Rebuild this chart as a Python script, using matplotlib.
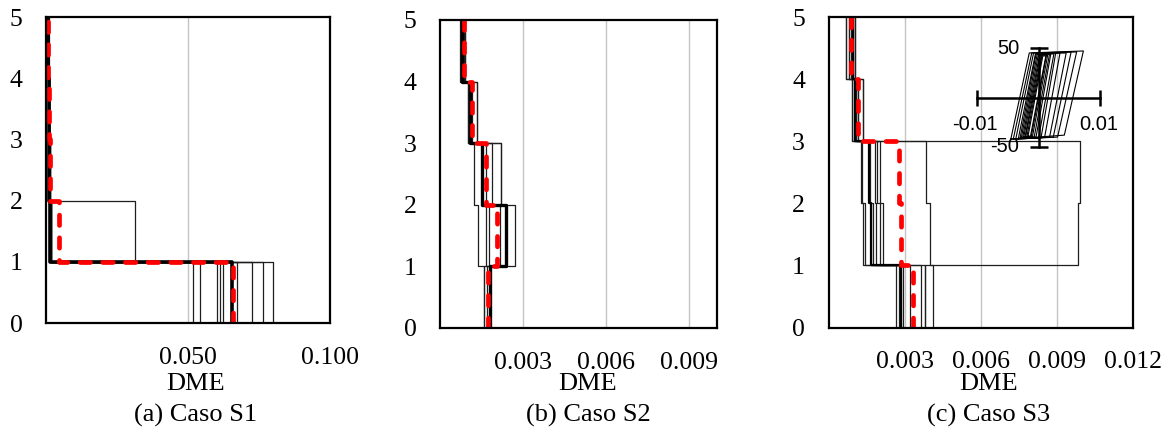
import matplotlib
matplotlib.use("Agg")
import matplotlib.pyplot as plt

# ---------------- data ----------------
stories = [0, 1, 2, 3, 4, 5]

# Panel (a) Caso S1: per-record DME per story (story 1..5)
s1_records = [
    [0.0519, 0.0015, 0.0011, 0.0009, 0.0006],
    [0.0542, 0.0016, 0.0012, 0.0010, 0.0007],
    [0.0601, 0.0017, 0.0013, 0.0010, 0.0008],
    [0.0613, 0.0018, 0.0014, 0.0011, 0.0008],
    [0.0622, 0.0312, 0.0012, 0.0010, 0.0007],
    [0.0671, 0.0016, 0.0012, 0.0009, 0.0007],
    [0.0726, 0.0017, 0.0013, 0.0011, 0.0008],
    [0.0765, 0.0015, 0.0011, 0.0009, 0.0006],
    [0.0798, 0.0018, 0.0014, 0.0011, 0.0009],
]
s1_thick = [0.0655, 0.0015, 0.0012, 0.0010, 0.0008]
s1_mean = [0.0657, 0.0046, 0.0013, 0.0010, 0.0008]
s1_xticks = [0.05, 0.10]
s1_xticklabels = ["0.050", "0.100"]
s1_xlim = 0.10

# Panel (b) Caso S2
s2_records = [
    [0.00160, 0.00138, 0.00124, 0.00100, 0.00074],
    [0.00160, 0.00270, 0.00220, 0.00134, 0.00092],
    [0.00180, 0.00166, 0.00186, 0.00114, 0.00086],
    [0.00180, 0.00178, 0.00166, 0.00100, 0.00078],
    [0.00170, 0.00216, 0.00220, 0.00134, 0.00092],
]
s2_thick = [0.00180, 0.00238, 0.00150, 0.00108, 0.00080]
s2_mean = [0.00172, 0.00204, 0.00166, 0.00114, 0.00086]
s2_xticks = [0.003, 0.006, 0.009]
s2_xticklabels = ["0.003", "0.006", "0.009"]
s2_xlim = 0.010

# Panel (c) Caso S3
s3_records = [
    [0.00267, 0.00136, 0.00126, 0.00094, 0.00068],
    [0.00276, 0.00142, 0.00133, 0.00102, 0.00080],
    [0.00285, 0.00169, 0.00158, 0.00107, 0.00087],
    [0.00293, 0.00175, 0.00162, 0.00116, 0.00096],
    [0.00320, 0.00186, 0.00182, 0.00107, 0.00080],
    [0.00366, 0.00202, 0.00189, 0.00136, 0.00106],
    [0.00379, 0.00215, 0.00202, 0.00116, 0.00096],
    [0.00411, 0.00401, 0.00385, 0.00136, 0.00106],
    [0.00379, 0.00982, 0.00989, 0.00094, 0.00068],
]
s3_thick = [0.00285, 0.00169, 0.00158, 0.00106, 0.00096]
s3_mean = [0.00333, 0.00284, 0.00278, 0.00116, 0.00087]
s3_xticks = [0.003, 0.006, 0.009, 0.012]
s3_xticklabels = ["0.003", "0.006", "0.009", "0.012"]
s3_xlim = 0.012

# Inset hysteresis loops (corners: BL, TL, TR, BR, BL)
loop_x = [
    [-0.0045, -0.0015, 0.0073, 0.0042, -0.0045],
    [-0.0041, -0.0011, 0.0062, 0.0031, -0.0041],
    [-0.0037, -0.0008, 0.0053, 0.0024, -0.0037],
    [-0.0033, -0.0005, 0.0045, 0.0018, -0.0033],
    [-0.0030, -0.0004, 0.0028, 0.0004, -0.0030],
    [-0.0028, -0.0002, 0.0035, 0.0010, -0.0028],
    [-0.0026, 0.0000, 0.0025, 0.0000, -0.0026],
    [-0.0024, 0.0002, 0.0020, -0.0004, -0.0024],
    [-0.0022, 0.0003, 0.0018, -0.0007, -0.0022],
    [-0.0021, 0.0005, 0.0015, -0.0010, -0.0021],
    [-0.0019, 0.0006, 0.0013, -0.0012, -0.0019],
    [-0.0017, 0.0007, 0.0012, -0.0013, -0.0017],
]
loop_y = [
    [-42, 45, 47, -38, -42],
    [-42, 45, 46, -40, -42],
    [-42, 45, 46, -40, -42],
    [-42, 44, 45, -40, -42],
    [-41, 44, 45, -41, -41],
    [-41, 44, 45, -40, -41],
    [-41, 44, 44, -41, -41],
    [-40, 44, 44, -40, -40],
    [-40, 43, 44, -40, -40],
    [-40, 43, 43, -40, -40],
    [-40, 43, 43, -40, -40],
    [-39, 42, 42, -39, -39],
]

captions = ["(a) Caso S1", "(b) Caso S2", "(c) Caso S3"]

# ---------------- drawing ----------------
SERIF = ["Liberation Serif", "DejaVu Serif"]
SANS = ["Liberation Sans", "DejaVu Sans"]

W, H = 1169, 432
fig = plt.figure(figsize=(W / 100, H / 100), dpi=100)


def step_xy(vals):
    xs, ys = [], []
    for i, v in enumerate(vals):
        xs += [v, v]
        ys += [stories[i], stories[i + 1]]
    return xs, ys


def px_rect(l, r, t, b):
    return [l / W, 1 - b / H, (r - l) / W, (b - t) / H]


panels = [
    (px_rect(46, 330, 17, 323), s1_records, s1_thick, s1_mean, s1_xticks, s1_xticklabels, s1_xlim, 196, 2.6),
    (px_rect(440, 717, 20, 328), s2_records, s2_thick, s2_mean, s2_xticks, s2_xticklabels, s2_xlim, 588, 2.4),
    (px_rect(828.5, 1133.3, 17, 327.5), s3_records, s3_thick, s3_mean, s3_xticks, s3_xticklabels, s3_xlim, 989, 1.6),
]

for k, (rect, recs, thick, mean, xt, xtl, xmax, cx, tlw) in enumerate(panels):
    ax = fig.add_axes(rect)
    for r in recs:
        xs, ys = step_xy(r)
        ax.plot(xs, ys, color="#1e1e1e", lw=0.9, zorder=3)
    xs, ys = step_xy(thick)
    ax.plot(xs, ys, color="black", lw=tlw, zorder=4)
    xs, ys = step_xy(mean)
    ax.plot(xs, ys, color="red", lw=3.4, linestyle=(0, (2.2, 2.6)),
            dash_capstyle="round", zorder=5)
    ax.set_xlim(0, xmax)
    ax.set_ylim(0, 5)
    ax.set_xticks(xt)
    ax.set_xticklabels(xtl, family=SERIF, fontsize=18.5)
    ax.set_yticks(stories)
    ax.set_yticklabels([str(s) for s in stories], family=SERIF, fontsize=18.5)
    ax.tick_params(axis="x", length=0, pad=17)
    ax.tick_params(axis="y", length=0, pad=17)
    ax.grid(axis="x", color="#c4c4c4", lw=1.0, zorder=1)
    ax.set_axisbelow(True)
    for s in ax.spines.values():
        s.set_linewidth(1.6)
        s.set_color("black")
        s.set_zorder(6)
    fig.text(cx / W, 1 - 384 / H, "DME", family=SERIF, fontsize=19,
             ha="center", va="center")
    fig.text(cx / W, 1 - 415 / H, captions[k], family=SERIF, fontsize=19,
             ha="center", va="center")

# inset
axi = fig.add_axes(px_rect(977, 1100, 48, 147))
axi.patch.set_alpha(0)
for s in axi.spines.values():
    s.set_visible(False)
axi.set_xticks([])
axi.set_yticks([])
axi.set_xlim(-0.01, 0.01)
axi.set_ylim(-50, 50)
for lx, ly in zip(loop_x, loop_y):
    axi.plot(lx, ly, color="black", lw=0.8, zorder=3)
axi.plot([-0.01, 0.01], [0, 0], color="black", lw=1.8, zorder=4)
axi.plot([-0.01, 0.01], [0, 0], ls="none", marker="|", ms=11, mew=1.8,
         color="black", zorder=4)
axi.plot([0, 0], [-50, 50], color="black", lw=1.8, zorder=4)
axi.plot([0, 0], [-50, 50], ls="none", marker="_", ms=13, mew=1.8,
         color="black", zorder=4)
for art in axi.lines:
    art.set_clip_on(False)
axi.text(-0.0031, 50, "50", family=SANS, fontsize=14.5, ha="right", va="center")
axi.text(-0.0031, -50, "-50", family=SANS, fontsize=14.5, ha="right", va="center")
axi.text(-0.0103, -27, "-0.01", family=SANS, fontsize=14.5, ha="center", va="center")
axi.text(0.0098, -27, "0.01", family=SANS, fontsize=14.5, ha="center", va="center")

fig.savefig("out.png", dpi=100)
